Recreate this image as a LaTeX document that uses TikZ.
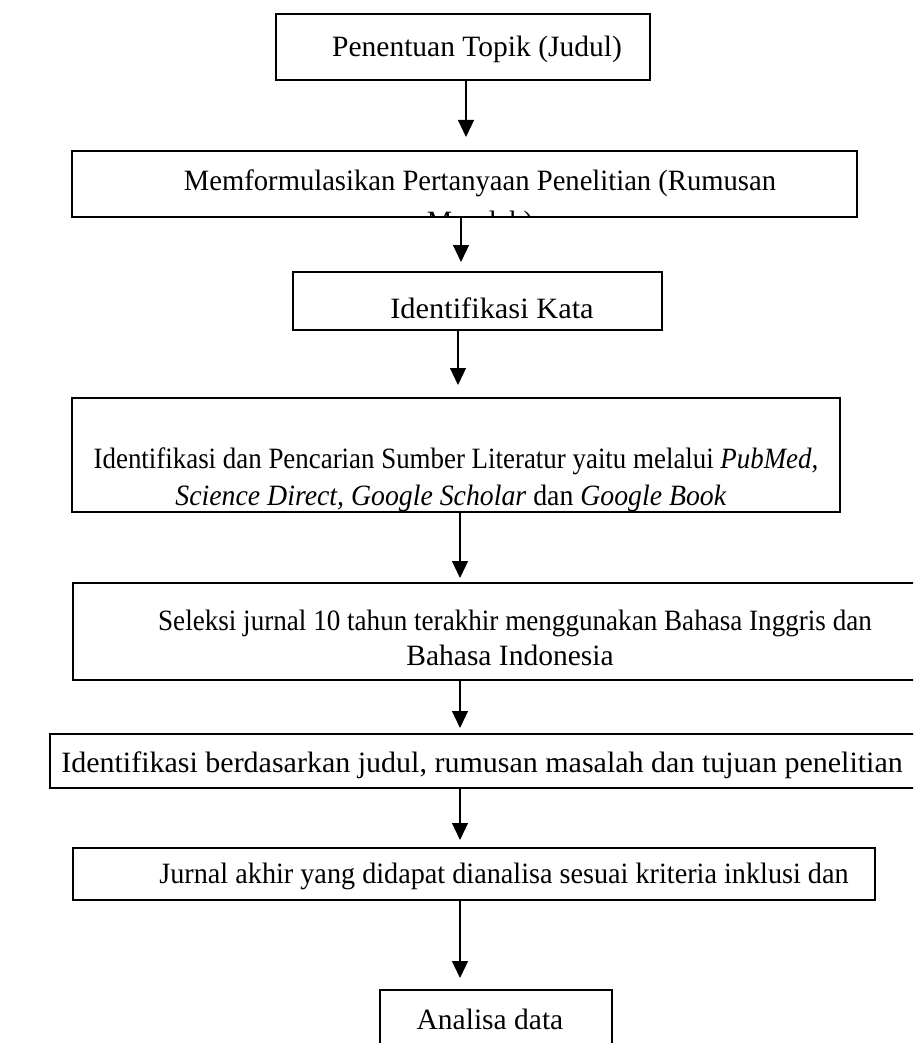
\documentclass[tikz,border=0pt]{standalone}
\usepackage{fontspec}
\usepackage{graphicx}
\setmainfont{Liberation Serif}
\usetikzlibrary{arrows.meta}
\newcommand{\sx}[2]{\scalebox{#1}[1]{#2}}
\begin{document}
\begin{tikzpicture}[x=1pt,y=-1pt,
  box/.style={draw, line width=1.4pt, inner sep=0pt, outer sep=0pt, anchor=north west},
  txt/.style={anchor=base, inner sep=0pt, font=\fontsize{29.5}{36}\selectfont},
  arr/.style={line width=1.2pt, -{Triangle[width=16pt,length=17pt]}}]
\clip (0,0) rectangle (913,1043);
\path[use as bounding box] (0,0) rectangle (913,1043);
% boxes
\node[box, minimum width=374pt, minimum height=66pt] (b1) at (276,14) {};
\node[box, minimum width=785pt, minimum height=66pt] (b2) at (72,151) {};
\node[box, minimum width=369pt, minimum height=58pt] (b3) at (293,272) {};
\node[box, minimum width=768pt, minimum height=114pt] (b4) at (72,398) {};
\node[box, minimum width=870pt, minimum height=97pt] (b5) at (73,583) {};
\node[box, minimum width=890pt, minimum height=54pt] (b6) at (50,734) {};
\node[box, minimum width=802pt, minimum height=52pt] (b7) at (73,848) {};
\node[box, minimum width=232pt, minimum height=80pt] (b8) at (380,990) {};
% texts
\node[txt] (l1) at (477,57) {Penentuan Topik (Judul)};
\node[txt] (l2a) at (480,190) {\sx{0.97}{Memformulasikan Pertanyaan Penelitian (Rumusan}};
\begin{scope}
\clip (b2.north west) rectangle (b2.south east);
\node[txt] (l2b) at (480,231) {\sx{0.97}{Masalah)}};
\end{scope}
\node[txt] (l3) at (492,318) {\sx{1.03}{Identifikasi Kata}};
\node[txt] (l4a) at (456,468) {\sx{0.912}{Identifikasi dan Pencarian Sumber Literatur yaitu melalui \textit{PubMed,}}};
\node[txt] (l4b) at (451,505) {\sx{0.942}{\textit{Science Direct, Google Scholar} dan \textit{Google Book}}};
\node[txt] (l5a) at (515,630) {\sx{0.919}{Seleksi jurnal 10 tahun terakhir menggunakan Bahasa Inggris dan}};
\node[txt] (l5b) at (510,665) {Bahasa Indonesia};
\node[txt] (l6) at (482,772) {\sx{1.017}{Identifikasi berdasarkan judul, rumusan masalah dan tujuan penelitian}};
\node[txt] (l7) at (504,883) {\sx{0.956}{Jurnal akhir yang didapat dianalisa sesuai kriteria inklusi dan}};
\node[txt] (l8) at (490,1029) {Analisa data};
% arrow tips
\coordinate (t1) at (466,137);
\coordinate (t2) at (461,262);
\coordinate (t3) at (458,385);
\coordinate (t4) at (460,578);
\coordinate (t5) at (460,728);
\coordinate (t6) at (460,840);
\coordinate (t7) at (460,978);
\draw[arr] (t1 |- b1.south) -- (t1);
\draw[arr] (t2 |- b2.south) -- (t2);
\draw[arr] (t3 |- b3.south) -- (t3);
\draw[arr] (t4 |- b4.south) -- (t4);
\draw[arr] (t5 |- b5.south) -- (t5);
\draw[arr] (t6 |- b6.south) -- (t6);
\draw[arr] (t7 |- b7.south) -- (t7);
\end{tikzpicture}
\end{document}
